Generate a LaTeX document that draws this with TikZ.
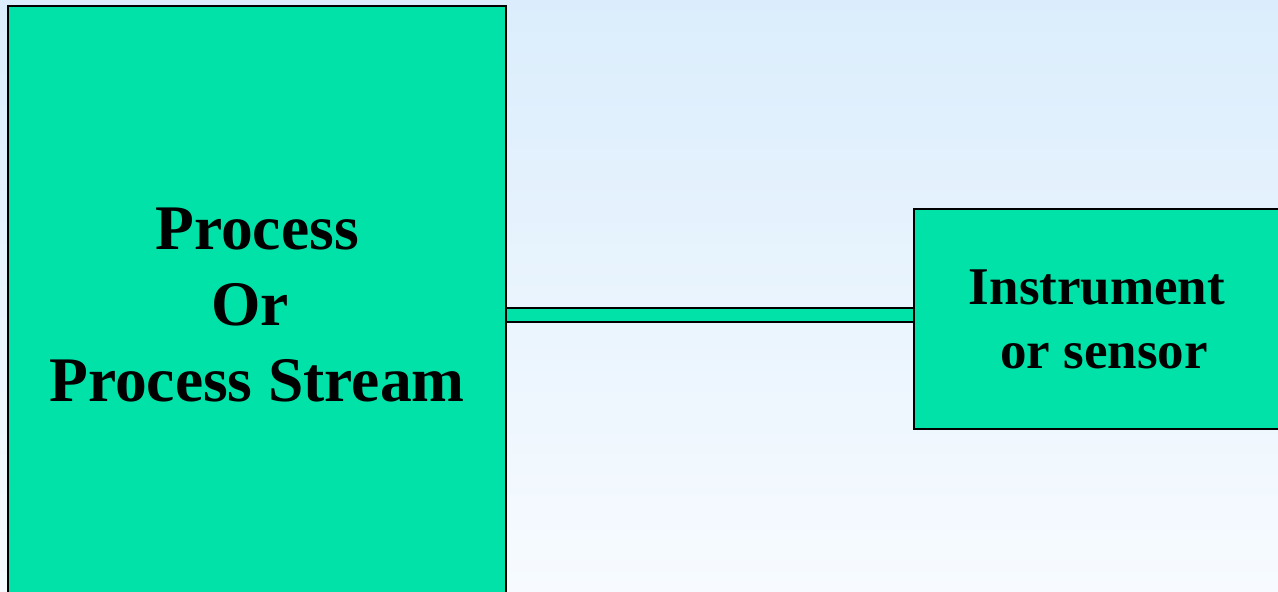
\documentclass[tikz,border=0pt]{standalone}
\usepackage{fontspec}
\setmainfont{Liberation Serif}
\definecolor{boxgreen}{RGB}{0,226,168}
\definecolor{skytop}{RGB}{219,237,252}
\definecolor{skybottom}{RGB}{247,251,255}
\begin{document}
\begin{tikzpicture}[x=1pt,y=-1pt,
  unit/.style={draw=black, line width=2pt, fill=boxgreen, align=center,
    inner sep=0pt, font=\bfseries},
  link/.style={draw=black, line width=2pt, double=boxgreen, double distance=12pt}]
  \useasboundingbox (0,0) rectangle (1278,592);
  \clip (0,0) rectangle (1278,592);
  \shade[top color=skytop, bottom color=skybottom] (0,0) rectangle (1278,592);
  % process block (runs off the bottom edge)
  \node[unit, minimum width=498pt, minimum height=598pt,
        font=\bfseries\fontsize{63.5}{76}\selectfont] (proc) at (257,305)
        {Process\\Or\kern14pt\\Process Stream};
  % instrument block (runs off the right edge)
  \node[unit, minimum width=366pt, minimum height=220pt,
        font=\bfseries\fontsize{53}{64}\selectfont] (inst) at (1097,319)
        {Instrument\\\kern14pt or sensor};
  % sensing line
  \draw[link] (proc.east |- 0,315) -- (inst.west |- 0,315);
\end{tikzpicture}
\end{document}
